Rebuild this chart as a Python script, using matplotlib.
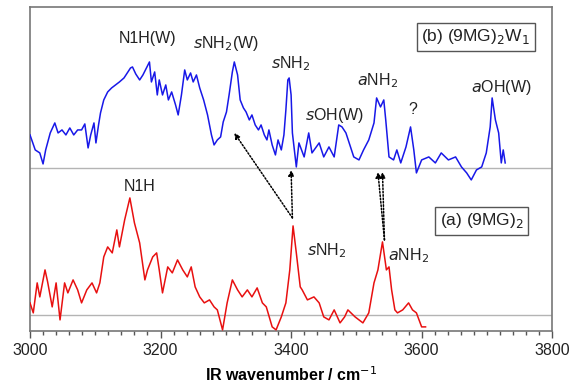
import numpy as np
import matplotlib
matplotlib.use("Agg")
import matplotlib.pyplot as plt
from matplotlib.ticker import MultipleLocator

plt.rcParams["font.family"] = ["Liberation Sans", "DejaVu Sans"]

# (b) (9MG)2W1 spectrum: wavenumber [cm-1], intensity above its baseline [a.u.]
wn_b = [3000, 3008, 3015, 3020, 3024, 3031, 3038, 3043, 3049, 3055,
        3061, 3067, 3073, 3079, 3084, 3089, 3093, 3098, 3101, 3105,
        3108, 3113, 3119, 3125, 3131, 3137, 3144, 3150, 3154, 3157,
        3162, 3168, 3173, 3183, 3186, 3191, 3195, 3198, 3203, 3208,
        3212, 3217, 3223, 3227, 3232, 3237, 3241, 3246, 3250, 3255,
        3260, 3266, 3272, 3278, 3282, 3287, 3292, 3296, 3301, 3305,
        3310, 3313, 3318, 3322, 3327, 3331, 3336, 3340, 3345, 3350,
        3354, 3359, 3363, 3366, 3371, 3376, 3380, 3385, 3389, 3392,
        3395, 3397, 3400, 3402, 3408, 3412, 3420, 3427, 3432, 3443,
        3450, 3458, 3466, 3473, 3478, 3484, 3489, 3496, 3504, 3511,
        3519, 3527, 3531, 3537, 3542, 3545, 3550, 3557, 3562, 3568,
        3576, 3583, 3588, 3592, 3600, 3611, 3621, 3630, 3641, 3652,
        3661, 3669, 3676, 3684, 3692, 3699, 3705, 3708, 3713, 3718,
        3722, 3725, 3728]
int_b = [33, 18, 15, 4, 18, 35, 45, 35, 38, 33,
         40, 33, 38, 38, 44, 20, 33, 45, 25, 43,
         55, 68, 76, 80, 83, 86, 90, 96, 100, 101,
         94, 88, 93, 106, 86, 96, 73, 88, 73, 83,
         68, 76, 63, 53, 73, 98, 88, 95, 86, 93,
         80, 68, 53, 33, 23, 28, 31, 46, 56, 73,
         96, 106, 93, 68, 60, 56, 48, 53, 43, 38,
         43, 33, 28, 38, 23, 13, 28, 18, 33, 58,
         88, 90, 73, 35, 1, 25, 11, 35, 15, 25,
         11, 21, 11, 43, 41, 35, 25, 11, 8, 18,
         28, 45, 70, 61, 68, 48, 11, 8, 18, 5,
         21, 41, 18, -5, 8, 11, 5, 15, 8, 11,
         1, -5, -12, -2, 1, 15, 41, 70, 48, 35,
         5, 18, 5]

# (a) (9MG)2 spectrum
wn_a = [3000, 3005, 3011, 3015, 3023, 3027, 3034, 3040, 3046, 3053,
        3058, 3066, 3073, 3079, 3087, 3095, 3102, 3107, 3113, 3119,
        3126, 3133, 3137, 3145, 3153, 3160, 3168, 3176, 3180, 3188,
        3194, 3198, 3203, 3211, 3218, 3226, 3234, 3241, 3247, 3253,
        3260, 3267, 3275, 3282, 3287, 3295, 3302, 3310, 3318, 3325,
        3333, 3340, 3348, 3356, 3362, 3371, 3377, 3385, 3392, 3398,
        3403, 3408, 3414, 3417, 3425, 3435, 3443, 3450, 3458, 3466,
        3475, 3482, 3487, 3498, 3510, 3519, 3527, 3533, 3540, 3546,
        3550, 3554, 3559, 3563, 3571, 3580, 3586, 3592, 3600, 3606]
int_a = [12, 2, 32, 18, 45, 33, 8, 32, -5, 32,
         22, 35, 25, 12, 25, 32, 22, 32, 58, 68,
         62, 85, 68, 95, 117, 92, 72, 35, 45, 58,
         62, 45, 22, 48, 42, 55, 45, 38, 48, 28,
         18, 12, 15, 8, 5, -15, 12, 35, 25, 18,
         25, 18, 27, 12, 8, -12, -15, -2, 12, 45,
         89, 62, 28, 25, 15, 18, 12, -2, -5, 5,
         -8, -2, 5, -2, -8, 2, 32, 45, 73, 45,
         48, 25, 5, 2, 5, 12, 5, 2, -12, -12]

offset_b = 147

# peak labels: (text, wavenumber, height)
labels = [
    ("N1H(W)", 3180, 276),
    ("$\\mathit{s}$NH$_2$(W)", 3300, 271),
    ("$\\mathit{s}$NH$_2$", 3400, 251),
    ("$\\mathit{s}$OH(W)", 3466, 199),
    ("$\\mathit{a}$NH$_2$", 3533, 234),
    ("?", 3586, 205),
    ("$\\mathit{a}$OH(W)", 3722, 227),
    ("N1H", 3168, 128),
    ("$\\mathit{s}$NH$_2$", 3455, 64),
    ("$\\mathit{a}$NH$_2$", 3580, 59),
]

# correlation arrows (tail in (a), head in (b))
arrows = [
    ((3402, 97), (3313, 182)),
    ((3402, 97), (3400, 145)),
    ((3543, 75), (3533, 143)),
    ((3543, 75), (3540, 143)),
]

fig = plt.figure(figsize=(5.77, 3.87), dpi=100)
ax = fig.add_axes([0.052, 0.145, 0.905, 0.837])

ax.axhline(0, color="#b4b4b4", lw=1.0, zorder=1)
ax.axhline(offset_b, color="#b4b4b4", lw=1.0, zorder=1)
ax.plot(wn_a, int_a, color="#e81010", lw=1.1, zorder=3)
ax.plot(wn_b, np.array(int_b) + offset_b, color="#1818e8", lw=1.1, zorder=3)

for txt, x, y in labels:
    ax.text(x, y, txt, ha="center", va="center", fontsize=11.5,
            color="#222222")

for (x0, y0), (x1, y1) in arrows:
    ax.annotate("", xy=(x1, y1), xytext=(x0, y0),
                arrowprops=dict(arrowstyle="-|>", ls=(0, (1, 1.2)), lw=1.1,
                                color="black", mutation_scale=8,
                                shrinkA=0, shrinkB=0))

box = dict(boxstyle="square,pad=0.25", fc="white", ec="#555555", lw=1.0)
ax.text(3683, 278, "(b) (9MG)$_2$W$_1$", ha="center", va="center",
        fontsize=12.5, bbox=box, color="#222222")
ax.text(3692, 94, "(a) (9MG)$_2$", ha="center", va="center",
        fontsize=12.5, bbox=box, color="#222222")

ax.set_xlim(3000, 3800)
ax.set_ylim(-16, 308)
ax.xaxis.set_major_locator(MultipleLocator(200))
ax.xaxis.set_minor_locator(MultipleLocator(20))
ax.tick_params(axis="x", which="major", length=5, width=1, color="#555555",
               labelsize=11.5, labelcolor="#222222", pad=4)
ax.tick_params(axis="x", which="minor", length=3, width=1, color="#555555")
ax.set_yticks([])
for s in ax.spines.values():
    s.set_color("#777777")
    s.set_linewidth(1.2)
ax.set_xlabel("IR wavenumber / cm$^{-1}$", fontsize=11.5, fontweight="bold",
              labelpad=5)

fig.savefig("out.png", dpi=100)
